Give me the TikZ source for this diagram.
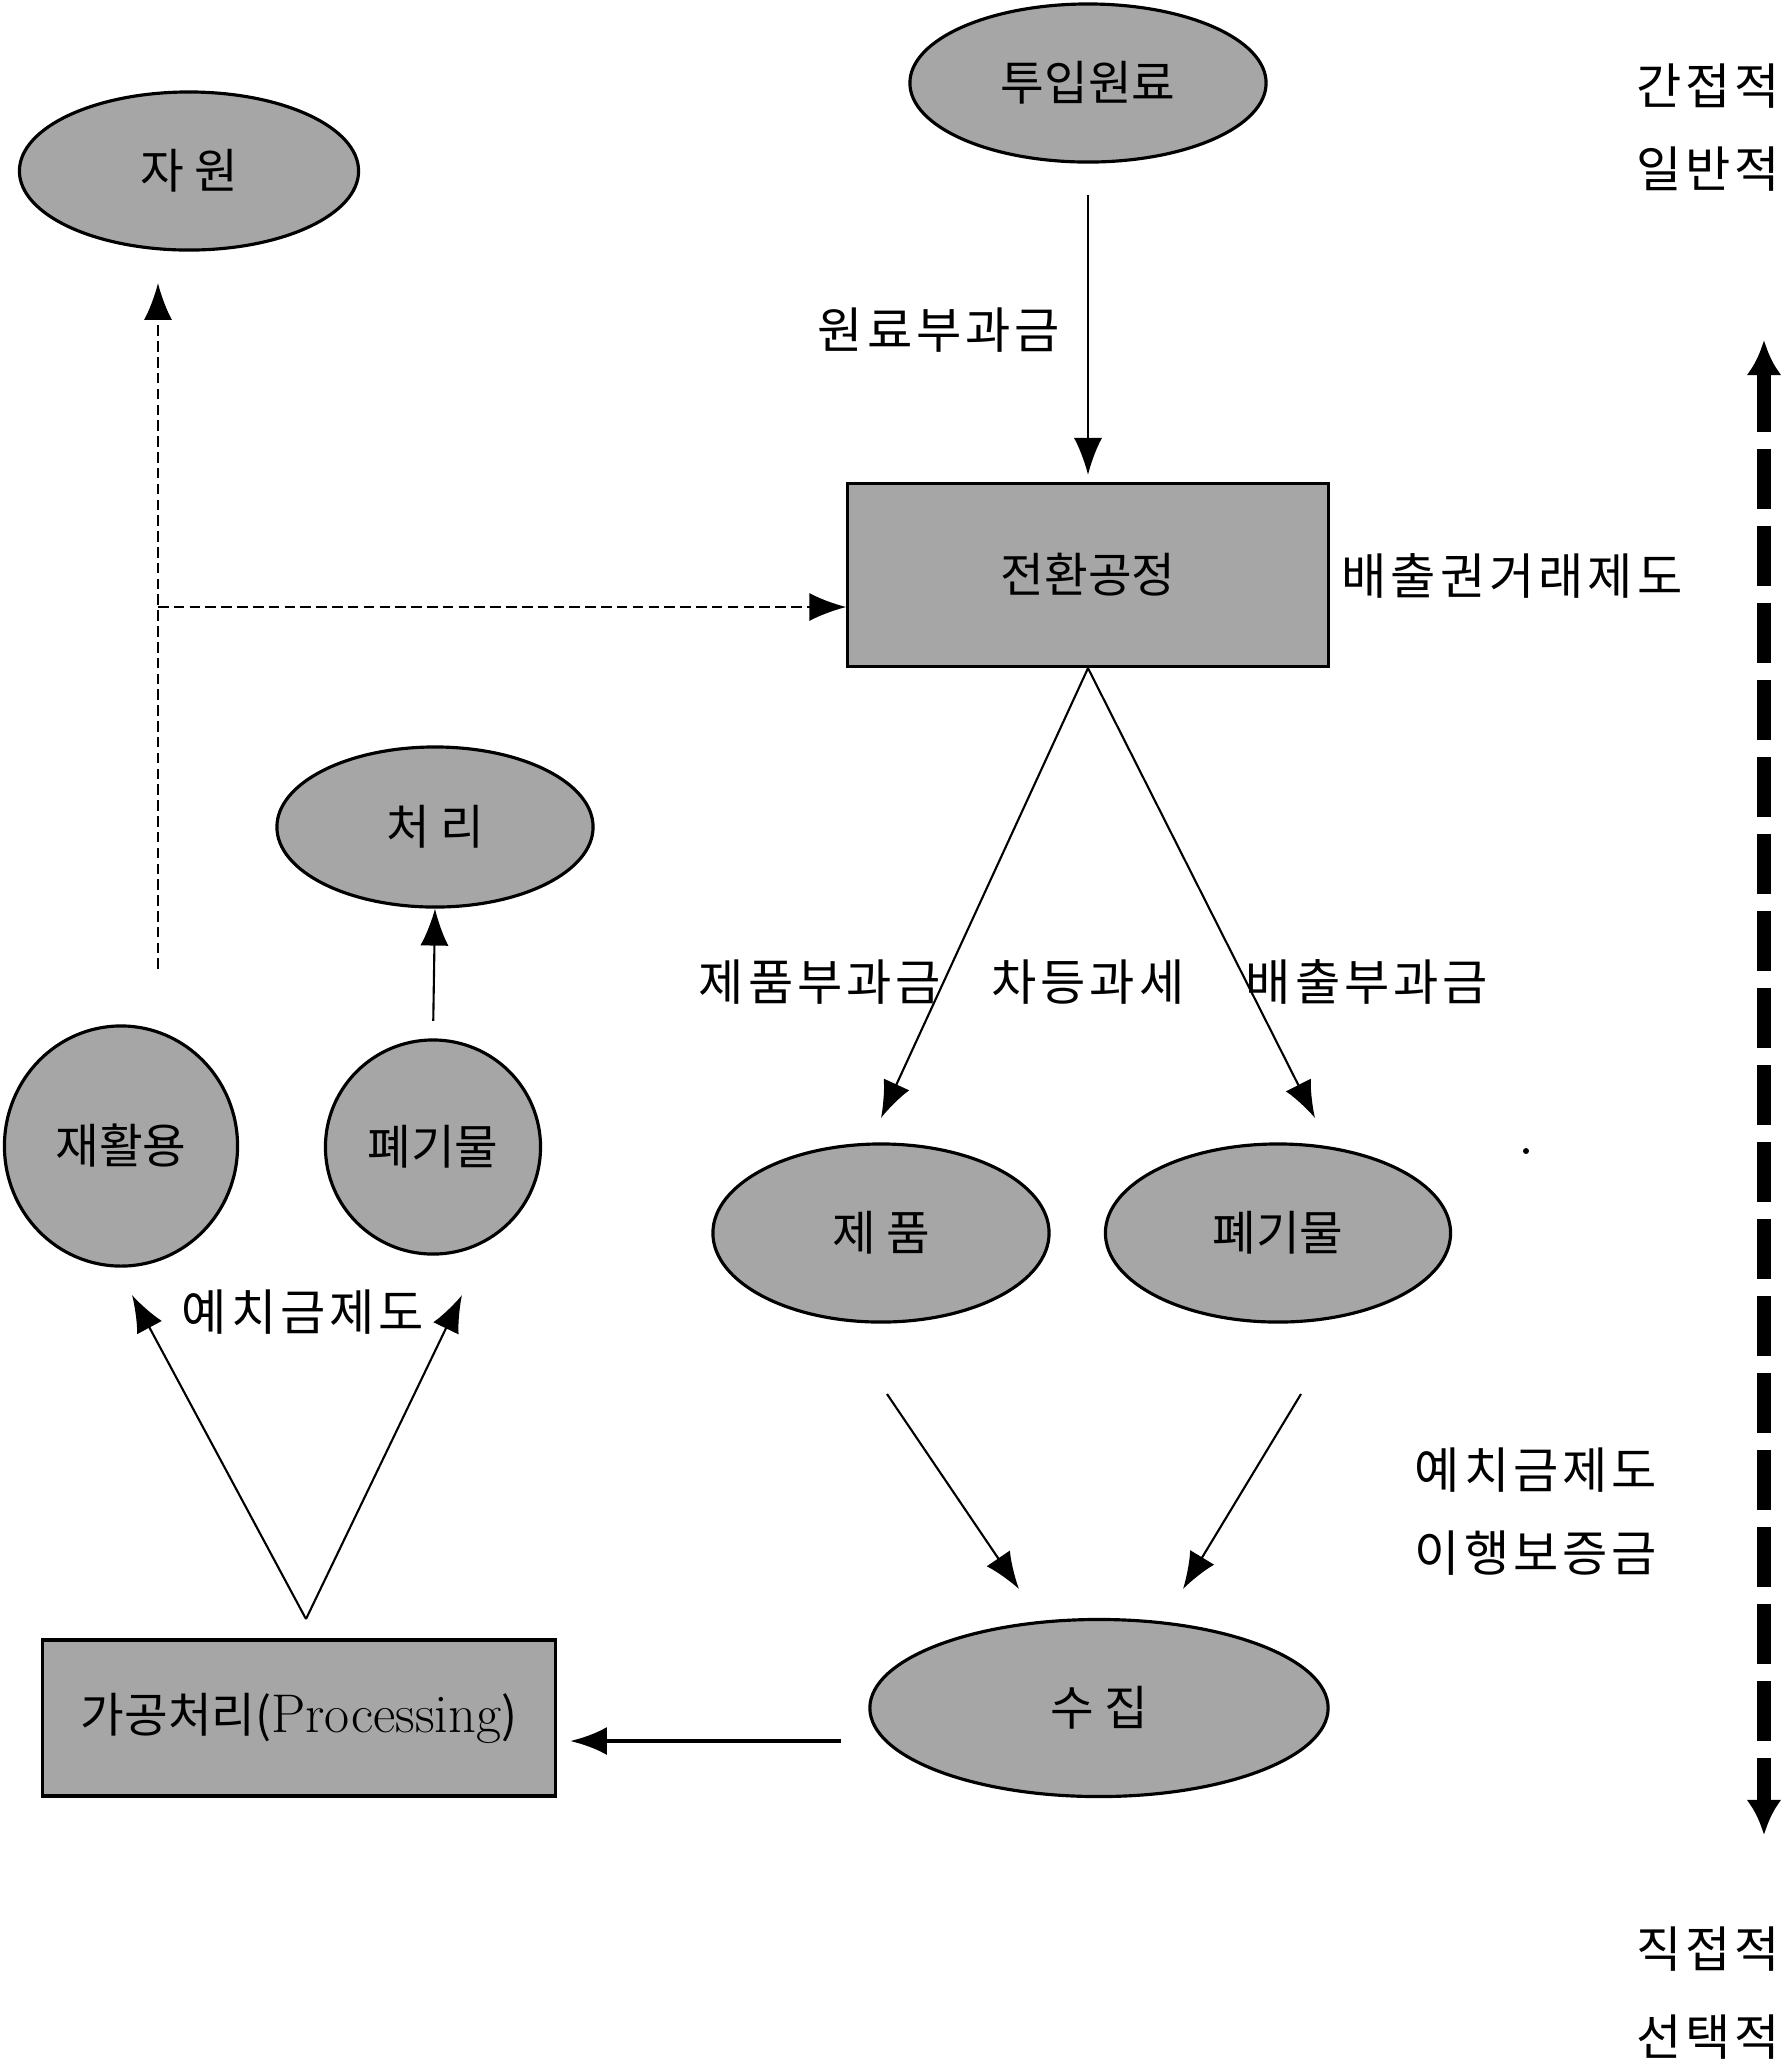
\documentclass[tikz,border=0pt]{standalone}
\usepackage{fontspec}
\newfontfamily\kr{Noto Sans CJK KR}
\newfontfamily\krw[LetterSpace=8]{Noto Sans CJK KR}
\usetikzlibrary{shapes.geometric,arrows.meta,calc}
\begin{document}
\begin{tikzpicture}[x=0.01cm,y=-0.01cm,
  txt/.style={font=\kr\fontsize{13.5pt}{16pt}\selectfont},
  shp/.style={txt,draw=black,line width=0.9pt,fill=black!35,inner sep=0pt},
  ell/.style={shp,ellipse},
  box/.style={shp,rectangle},
  lbl/.style={font=\krw\fontsize{14pt}{16pt}\selectfont,inner sep=0pt},
  arr/.style={line width=0.6pt,-{Latex[length=10.5pt,width=8pt]}},
  darr/.style={arr,dash pattern=on 3pt off 1.5pt},
  bigarr/.style={line width=3.8pt,dash pattern=on 0.6cm off 0.17cm,
    {Latex[length=10pt,width=10pt]}-{Latex[length=10pt,width=10pt]}}
]
\useasboundingbox (0,0) rectangle (1784,2068);

% shapes
\node[ell,minimum width=3.39cm,minimum height=1.58cm] (res) at (189,171) {자 원};
\node[ell,minimum width=3.56cm,minimum height=1.58cm] (in) at (1088,83) {투입원료};
\node[box,minimum width=4.80cm,minimum height=1.83cm] (tr) at (1088,575) {전환공정};
\node[ell,minimum width=3.16cm,minimum height=1.60cm] (cr) at (435,827) {처 리};
\node[ell,minimum width=2.33cm,minimum height=2.40cm] (rc) at (121,1146) {재활용};
\node[ell,minimum width=2.15cm,minimum height=2.14cm] (w1) at (433,1147) {폐기물};
\node[ell,minimum width=3.36cm,minimum height=1.78cm] (p1) at (881,1233) {제 품};
\node[ell,minimum width=3.45cm,minimum height=1.78cm] (w2) at (1278,1233) {폐기물};
\node[ell,minimum width=4.58cm,minimum height=1.77cm] (col) at (1099,1708) {수 집};
\node[box,minimum width=5.12cm,minimum height=1.56cm] (pr) at (299,1718) {가공처리({\rmfamily\fontsize{15.5pt}{17pt}\selectfont Processing})};

% labels
\node[lbl] (l1) at (1708,86) {간접적};
\node[lbl] (l2) at (1708,169) {일반적};
\node[lbl] (l3) at (1708,1949) {직접적};
\node[lbl] (l4) at (1708,2037) {선택적};
\node[lbl] (lw) at (939,330) {원료부과금};
\node[lbl,anchor=west] (le) at (1341,576) {배출권거래제도};
\node[lbl] (lp) at (820,982) {제품부과금};
\node[lbl] (ld) at (1088,982) {차등과세};
\node[lbl] (lx) at (1367,982) {배출부과금};
\node[lbl] (ly) at (1536,1470) {예치금제도};
\node[lbl] (lz) at (1536,1553) {이행보증금};
\node[lbl] (lq) at (303,1312) {예치금제도};
\fill (1526,1151) circle (3);

% coordinates for free ends
\coordinate (d0) at (158,969);
\coordinate (d1) at (158,283);
\coordinate (dj) at (158,607);
\coordinate (e1) at (881,1118);
\coordinate (e2) at (1315,1118);
\coordinate (s1) at (887,1394);
\coordinate (t1) at (1019,1589);
\coordinate (s2) at (1301,1394);
\coordinate (t2) at (1183,1589);
\coordinate (c0) at (841,1741);
\coordinate (c1) at (570,1741);
\coordinate (v0) at (306,1619);
\coordinate (v1) at (132,1295);
\coordinate (v2) at (462,1295);
\coordinate (b0) at (1764,340);
\coordinate (b1) at (1764,1835);

% connectors
\draw[arr,shorten <=9pt,shorten >=2pt] (in.south) -- (tr.north);
\draw[darr] (d0) -- (d1);
\draw[darr] (dj) -- (dj -| tr.west);
\draw[arr,shorten <=5pt] (w1.north) -- (cr.south);
\draw[arr] (tr.south) -- (e1);
\draw[arr] (tr.south) -- (e2);
\draw[arr] (s1) -- (t1);
\draw[arr] (s2) -- (t2);
\draw[arr,line width=1.3pt] (c0) -- (c1);
\draw[arr] (v0) -- (v1);
\draw[arr] (v0) -- (v2);
\draw[bigarr] (b0) -- (b1);
\end{tikzpicture}
\end{document}
